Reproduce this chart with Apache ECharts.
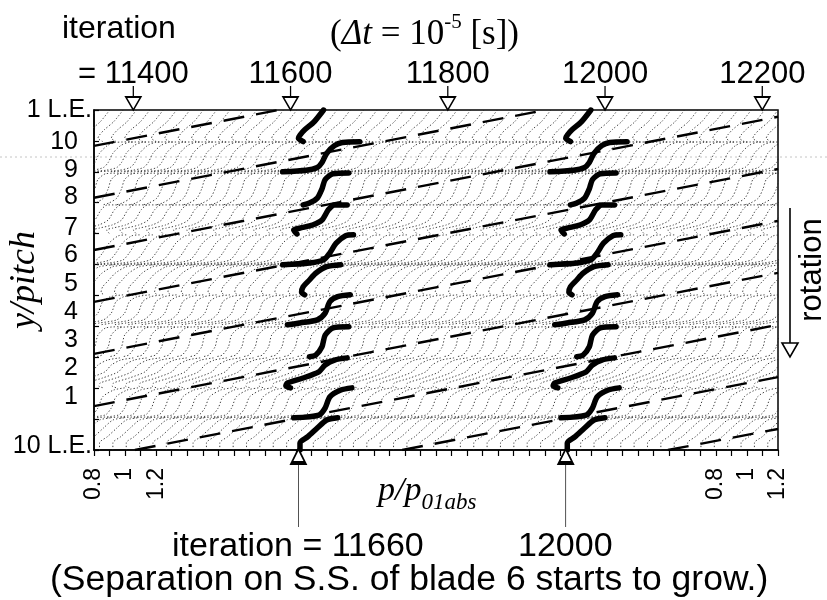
<!DOCTYPE html>
<html>
<head>
<meta charset="utf-8">
<script src="https://cdn.jsdelivr.net/npm/echarts@6/dist/echarts.min.js"></script>
<style>
  html, body { margin: 0; padding: 0; background: #fff; }
  #chart { width: 827px; height: 600px; }
</style>
</head>
<body>
<div id="chart"></div>
<script>
// Time–space plot of the pressure along the cascade: every trace is p/p01abs
// plotted against y/pitch, placed at its iteration; 0.1 of p/p01abs spans 20 iterations.
const pressureScale = 200;   // iterations per unit of p/p01abs
const pressureRef = 0.8;     // p/p01abs that sits on a trace's own iteration
const topEdgeShift = 50;     // iterations between a trace's foot and where it meets 1 L.E.

// iterations of the stored pressure traces
const traceIterations = [
  11371, 11388, 11405, 11422, 11439, 11456, 11473, 11490, 11507, 11524,
  11541, 11558, 11575, 11592, 11609, 11626, 11643, 11660, 11677, 11694,
  11711, 11728, 11745, 11762, 11779, 11796, 11813, 11830, 11847, 11864,
  11881, 11898, 11915, 11932, 11949, 11966, 11983, 12000, 12017, 12034,
  12051, 12068, 12085, 12102, 12119, 12136, 12153, 12170, 12187, 12204,
  12221, 12238, 12255
];
// traces drawn bold
const highlightIterations = [11660, 12000];

// pressure distribution, one polyline per blade passage: [p/p01abs, y/pitch]
const passage11 = [[0.96, 11.0], [0.90, 10.62], [0.84, 10.36], [0.81, 10.19], [0.80, 10.09], [0.83, 9.98]];
const passage10 = [[1.19, 9.97], [1.08, 9.95], [1.03, 9.85], [0.98, 9.6], [0.95, 9.3], [0.92, 9.14], [0.85, 9.05], [0.70, 9.0]];
const passage9  = [[1.12, 8.96], [1.02, 8.94], [0.97, 8.75], [0.95, 8.45], [0.92, 8.15], [0.87, 7.99], [0.83, 7.93]];
const passage8  = [[1.11, 7.93], [1.03, 7.93], [0.99, 7.77], [0.95, 7.44], [0.89, 7.28], [0.81, 7.18], [0.77, 7.12], [0.79, 6.99]];
const passage7  = [[1.15, 6.96], [1.10, 6.93], [1.04, 6.69], [1.00, 6.38], [0.96, 6.15], [0.87, 6.05], [0.70, 5.99]];
const passage6  = [[1.07, 5.99], [0.98, 5.93], [0.91, 5.72], [0.87, 5.5], [0.83, 5.28], [0.82, 5.1], [0.84, 5.02]];
const passage5  = [[1.13, 5.02], [1.05, 4.96], [1.00, 4.8], [0.97, 4.43], [0.92, 4.21], [0.81, 4.11], [0.73, 4.05]];
const passage4  = [[1.12, 3.99], [1.02, 3.95], [0.97, 3.72], [0.95, 3.34], [0.91, 3.07], [0.87, 3.02]];
const passage3  = [[1.11, 2.98], [1.03, 2.91], [0.97, 2.75], [0.93, 2.53], [0.83, 2.33], [0.73, 2.17], [0.72, 2.07], [0.75, 2.01]];
const passage2  = [[1.14, 2.01], [1.07, 1.94], [1.00, 1.72], [0.97, 1.36], [0.93, 1.13], [0.77, 1.04]];
const passage1  = [[1.05, 1.04], [0.98, 0.97], [0.92, 0.71], [0.86, 0.43], [0.81, 0.23], [0.81, 0.0]];
const pitchProfile = [passage11, passage10, passage9, passage8, passage7, passage6,
                      passage5, passage4, passage3, passage2, passage1];

// dashed propagation tracks: [iteration, y/pitch] at both ends
const trackStart = [[11400, 9.84], [11400, 8.16], [11400, 6.47], [11400, 4.79], [11400, 3.11],
                    [11400, 1.42], [11452, 0], [11792, 0], [12130, 0]];
const trackEnd   = [[11635, 11.0], [11974, 11.0], [12270, 10.78], [12270, 9.09], [12270, 7.41],
                    [12270, 5.73], [12270, 4.05], [12270, 2.36], [12270, 0.68]];

const topArrowIterations = [11400, 11600, 11800, 12000, 12200];
const topArrowLabels = ['= 11400', '11600', '11800', '12000', '12200'];
const bottomArrowIterations = [11660, 12000];

const pitchLabelValues = [0.13, 1.72, 2.65, 3.56, 4.47, 5.37, 6.31, 7.18, 8.19, 9.06, 9.97, 11];
const pitchLabelTexts = ['10 L.E.', '1', '2', '3', '4', '5', '6', '7', '8', '9', '10', '1 L.E.'];

const scaleTickIndex = [0, 2, 4, 40, 42, 44];
const scaleTickLabels = ['0.8', '1', '1.2', '0.8', '1', '1.2'];

const SANS = '"Liberation Sans", Arial, Helvetica, sans-serif';
const SERIF = '"Liberation Serif", "Times New Roman", serif';
const GAP = ['-', '-'];

function traceData(iterations) {
  const out = [];
  iterations.forEach(function (it) {
    pitchProfile.forEach(function (piece) {
      piece.forEach(function (pt) {
        out.push([it + pressureScale * (pt[0] - pressureRef), pt[1]]);
      });
      out.push(GAP);
    });
  });
  return out;
}

const trackData = [];
trackStart.forEach(function (s, i) {
  trackData.push(s, trackEnd[i], GAP);
});

function lookup(values, texts, v) {
  for (let i = 0; i < values.length; i++) {
    if (Math.abs(values[i] - v) < 1e-6) return texts[i];
  }
  return '';
}

const chart = echarts.init(document.getElementById('chart'));

chart.setOption({
  animation: false,
  backgroundColor: '#fff',
  grid: {
    left: 94, right: 49, top: 110, bottom: 150,
    containLabel: false, outerBoundsMode: 'none',
    show: true, borderColor: '#000', borderWidth: 1.5, backgroundColor: 'transparent'
  },
  xAxis: [
    {
      type: 'value', position: 'top', min: 11400, max: 12270,
      show: false, splitLine: { show: false }
    },
    {
      type: 'value', position: 'bottom', min: 0, max: 44, interval: 1,
      axisLine: { show: true, lineStyle: { color: '#000', width: 1.5 } },
      axisTick: { show: true, length: 6, lineStyle: { color: '#000', width: 1.2 } },
      axisLabel: {
        customValues: scaleTickIndex,
        rotate: 90, margin: 18,
        fontFamily: SANS, fontSize: 23, color: '#000',
        formatter: function (v) { return lookup(scaleTickIndex, scaleTickLabels, v); }
      },
      splitLine: { show: false }
    }
  ],
  yAxis: {
    type: 'value', min: 0, max: 11, interval: 1,
    name: 'y/pitch', nameLocation: 'middle', nameGap: 51, nameRotate: 90,
    nameMoveOverlap: false,
    nameTextStyle: { fontFamily: SERIF, fontStyle: 'italic', fontSize: 36, color: '#000' },
    axisLine: { show: true, lineStyle: { color: '#000', width: 1.5 } },
    axisTick: { show: true, inside: true, length: 5, lineStyle: { color: '#000', width: 1.2 } },
    axisLabel: {
      customValues: pitchLabelValues,
      margin: 2,
      color: '#000',
      formatter: function (v) {
        const t = lookup(pitchLabelValues, pitchLabelTexts, v);
        return t.indexOf('L.E.') >= 0 ? '{e|' + t + '}' : '{n|' + t + '}';
      },
      rich: {
        e: { fontFamily: SANS, fontSize: 25, color: '#000' },
        n: { fontFamily: SANS, fontSize: 25, color: '#000', padding: [0, 14, 0, 0] }
      }
    },
    splitLine: { show: false }
  },
  series: [
    {
      name: 'traces', type: 'line', xAxisIndex: 0, yAxisIndex: 0,
      data: traceData(traceIterations),
      smooth: 0.25, symbol: 'none', connectNulls: false, silent: true, z: 1,
      lineStyle: { color: '#2a2a2a', width: 0.9, type: [1.3, 2] }
    },
    {
      name: 'tracks', type: 'line', xAxisIndex: 0, yAxisIndex: 0,
      data: trackData,
      symbol: 'none', connectNulls: false, silent: true, z: 3,
      lineStyle: { color: '#000', width: 2.4, type: [21, 12] }
    },
    {
      name: 'highlight', type: 'line', xAxisIndex: 0, yAxisIndex: 0,
      data: traceData(highlightIterations),
      smooth: 0.25, symbol: 'none', connectNulls: false, silent: true, z: 4,
      lineStyle: { color: '#000', width: 5.5, cap: 'round', join: 'round' }
    },
    {
      name: 'top arrows', type: 'scatter', xAxisIndex: 0, yAxisIndex: 0,
      clip: false, silent: true, z: 6,
      symbol: 'path://M0,0 L0,11 M-7.5,11 L7.5,11 L0,24 Z',
      symbolSize: [15, 24], symbolOffset: [0, -12],
      itemStyle: { color: '#fff', borderColor: '#000', borderWidth: 1.6, opacity: 1 },
      label: {
        show: true, position: 'top', distance: -5,
        fontFamily: SANS, fontSize: 31, color: '#000', textBorderWidth: 0, opacity: 1
      },
      data: topArrowIterations.map(function (it, i) {
        return { value: [it + topEdgeShift, 11], label: { formatter: topArrowLabels[i] } };
      })
    },
    {
      name: 'bottom arrows', type: 'scatter', xAxisIndex: 0, yAxisIndex: 0,
      clip: false, silent: true, z: 6,
      symbol: 'path://M0,0 L7,14 L-7,14 Z M0,14 L0,78',
      symbolSize: [14, 78], symbolOffset: [0, 38],
      itemStyle: { color: '#fff', borderColor: '#000', borderWidth: 1.6, opacity: 1 },
      data: bottomArrowIterations.map(function (it) { return [it, 0]; })
    }
  ],
  graphic: [
    {
      type: 'line', silent: true, z: 0,
      shape: { x1: 0, y1: 157, x2: 827, y2: 157 },
      style: { stroke: '#c4c4c4', lineWidth: 1, lineDash: [2, 3] }
    },
    {
      type: 'text', left: 62, top: 13, silent: true,
      style: { text: 'iteration', font: '32px ' + SANS, fill: '#000' }
    },
    {
      type: 'text', left: 330, top: 12, silent: true,
      style: {
        text: '{a|(}{i|Δt}{a| = 10}{s|-5}{a| [s])}',
        rich: {
          a: { fontFamily: SERIF, fontSize: 35, lineHeight: 40, verticalAlign: 'bottom', fill: '#000' },
          i: { fontFamily: SERIF, fontSize: 35, fontStyle: 'italic', lineHeight: 40, verticalAlign: 'bottom', fill: '#000' },
          s: { fontFamily: SERIF, fontSize: 21, lineHeight: 25, verticalAlign: 'top', fill: '#000' }
        }
      }
    },
    {
      type: 'text', left: 378, top: 474, silent: true,
      style: {
        text: '{p|p/p}{s|01abs}',
        rich: {
          p: { fontFamily: SERIF, fontSize: 34, fontStyle: 'italic', lineHeight: 40, verticalAlign: 'bottom', padding: [0, 0, 6, 0], fill: '#000' },
          s: { fontFamily: SERIF, fontSize: 23, fontStyle: 'italic', lineHeight: 24, verticalAlign: 'bottom', fill: '#000' }
        }
      }
    },
    {
      type: 'text', left: 172, top: 530, silent: true,
      style: { text: 'iteration = 11660', font: '34px ' + SANS, fill: '#000' }
    },
    {
      type: 'text', left: 518, top: 530, silent: true,
      style: { text: '12000', font: '34px ' + SANS, fill: '#000' }
    },
    {
      type: 'text', left: 50, top: 562, silent: true,
      style: { text: '(Separation on S.S. of blade 6 starts to grow.)', font: '35.5px ' + SANS, fill: '#000' }
    },
    {
      type: 'text', x: 812, y: 270, rotation: Math.PI / 2, silent: true,
      style: { text: 'rotation', font: '31px ' + SANS, fill: '#000', align: 'center', verticalAlign: 'middle' }
    },
    {
      type: 'line', silent: true,
      shape: { x1: 790, y1: 208, x2: 790, y2: 343 },
      style: { stroke: '#000', lineWidth: 1.6 }
    },
    {
      type: 'polygon', silent: true,
      shape: { points: [[782, 343], [798, 343], [790, 357]] },
      style: { fill: '#fff', stroke: '#000', lineWidth: 1.6 }
    }
  ]
});
</script>
</body>
</html>
